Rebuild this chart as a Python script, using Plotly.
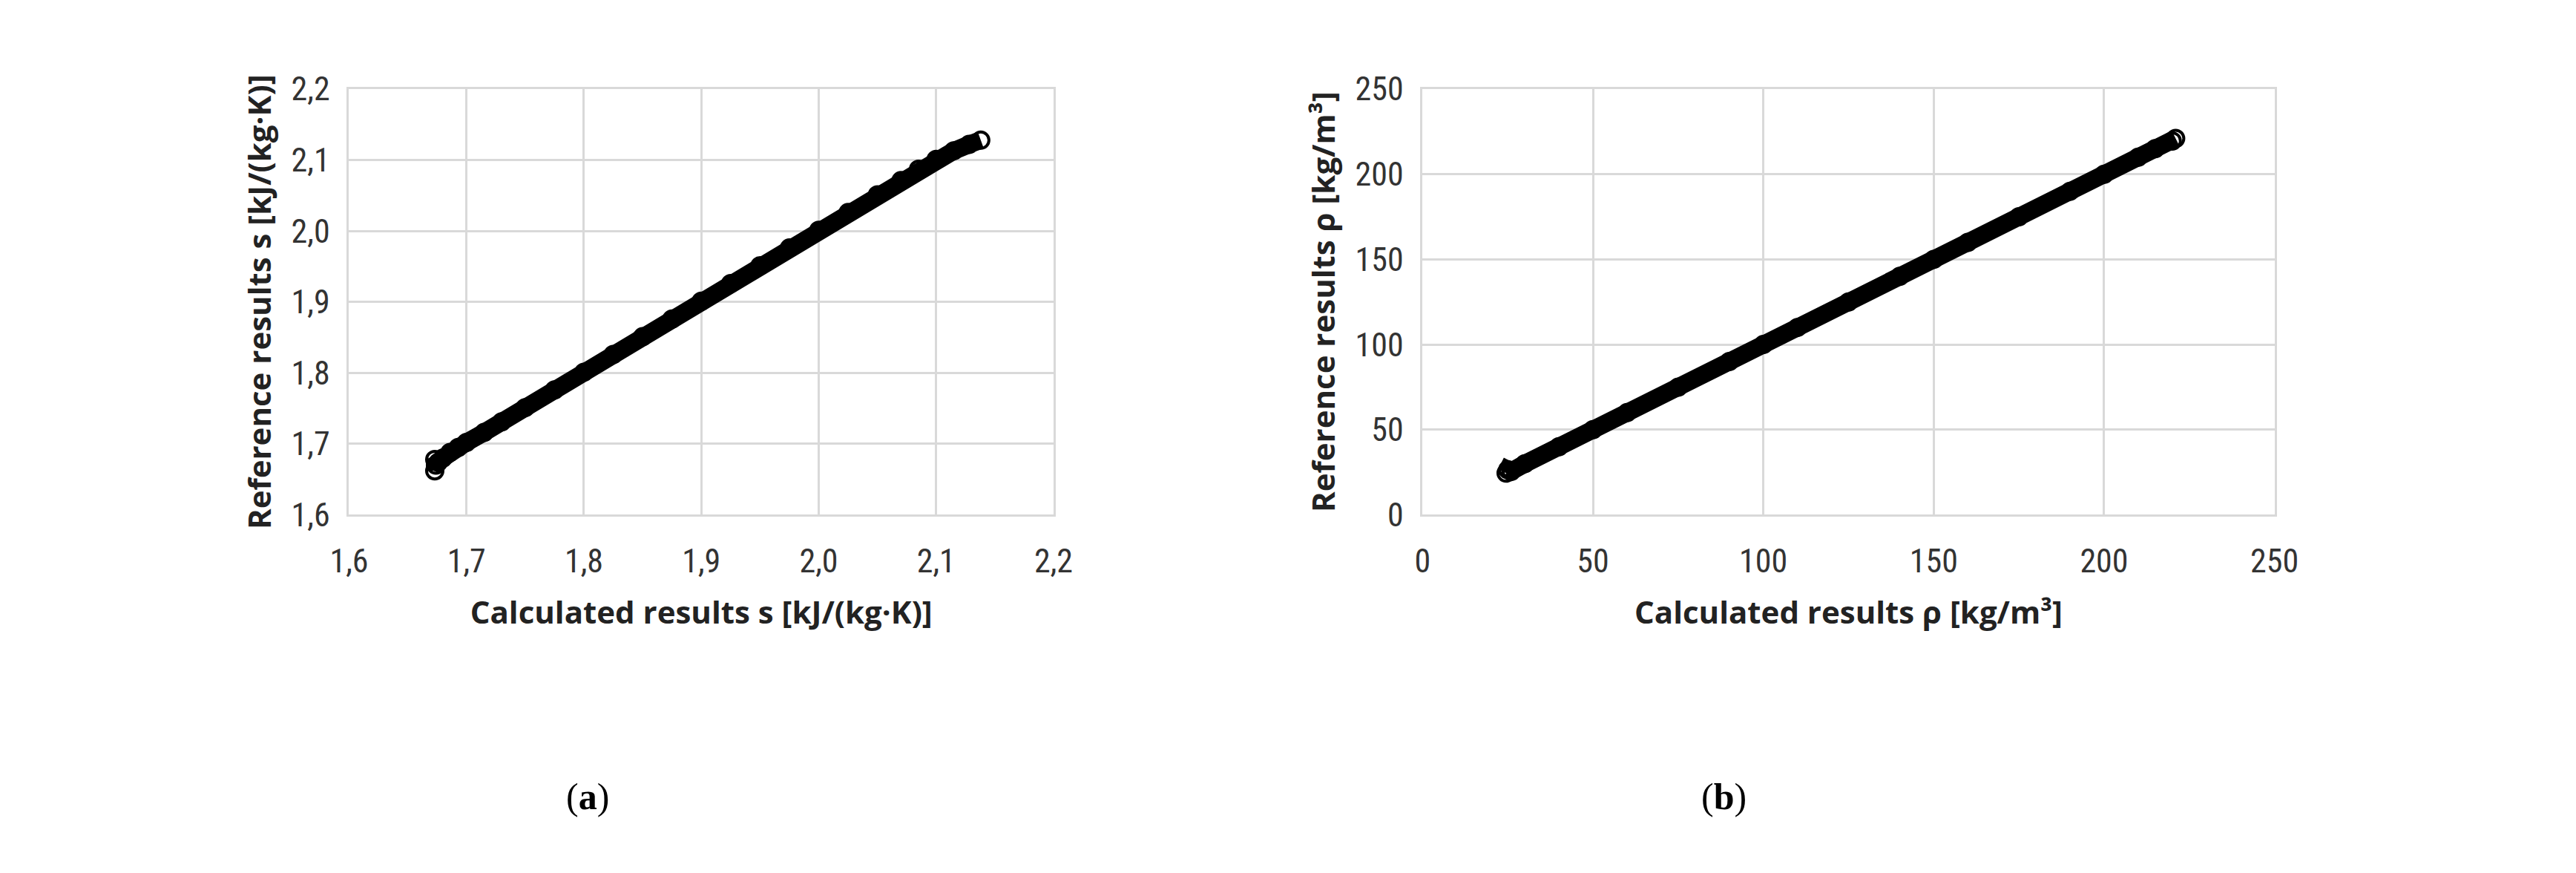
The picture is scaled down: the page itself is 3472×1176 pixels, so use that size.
import plotly.graph_objects as go

# (a) entropy s [kJ/(kg·K)]
s_calc = [1.673, 1.673, 1.674, 1.676, 1.680, 1.686, 1.693, 1.700, 1.715, 1.730, 1.750,
          1.775, 1.800, 1.825, 1.850, 1.875, 1.900, 1.925, 1.950, 1.975, 2.000,
          2.025, 2.050, 2.070, 2.085, 2.100, 2.115, 2.128, 2.138]
s_ref = [1.662, 1.678, 1.670, 1.674, 1.680, 1.688, 1.695, 1.702, 1.716, 1.731, 1.751,
         1.776, 1.801, 1.826, 1.851, 1.876, 1.901, 1.926, 1.951, 1.976, 2.001,
         2.026, 2.051, 2.071, 2.087, 2.101, 2.113, 2.122, 2.128]

# (b) density rho [kg/m3]
rho_calc = [24.5, 25.0, 26.0, 30.0, 40.0, 50.0, 60.0, 75.0, 90.0, 100.0, 110.0, 125.0,
            140.0, 150.0, 160.0, 175.0, 190.0, 200.0, 210.0, 215.0, 220.0, 221.0]
rho_ref = [24.5, 26.5, 25.5, 30.0, 40.0, 50.0, 60.0, 75.0, 90.0, 100.0, 110.0, 125.0,
           140.0, 150.0, 160.0, 175.0, 190.0, 200.0, 210.0, 215.0, 219.5, 221.0]

s_ticks = [1.6, 1.7, 1.8, 1.9, 2.0, 2.1, 2.2]
s_ticklabels = ["1,6", "1,7", "1,8", "1,9", "2,0", "2,1", "2,2"]
rho_ticks = [0, 50, 100, 150, 200, 250]

W, H = 3472, 1176
fig = go.Figure()

def band(x, y, xa, ya):
    fig.add_trace(go.Scatter(x=x, y=y, xaxis=xa, yaxis=ya, mode="lines+markers",
                             line=dict(color="black", width=24),
                             marker=dict(symbol="circle-open", size=22, color="black",
                                         line=dict(width=4)),
                             showlegend=False))

band(s_calc, s_ref, "x", "y")
band(rho_calc, rho_ref, "x2", "y2")

tickf = dict(family="Liberation Sans Narrow, Roboto Condensed, sans-serif", size=44, color="#333")
titlef = dict(family="Open Sans, Liberation Sans, sans-serif", size=42, color="#222")
grid = dict(showgrid=True, gridcolor="#d9d9d9", gridwidth=3, zeroline=False,
            showline=True, linecolor="#d9d9d9", linewidth=3, mirror=True,
            tickfont=tickf, ticks="")

fig.update_layout(
    width=W, height=H, paper_bgcolor="white", plot_bgcolor="white",
    margin=dict(l=0, r=0, t=0, b=0),
    xaxis=dict(domain=[444 / W, 1410 / W], range=[1.6, 2.2], tickvals=s_ticks,
               ticktext=s_ticklabels, anchor="y", ticklabelstandoff=22,
               title=dict(text="<b>Calculated results s [kJ/(kg·K)]</b>", font=titlef, standoff=30),
               **grid),
    yaxis=dict(domain=[1 - 690 / H, 1 - 90 / H], range=[1.6, 2.2], tickvals=s_ticks,
               ticktext=s_ticklabels, anchor="x", ticklabelstandoff=14,
               title=dict(text="<b>Reference results s [kJ/(kg·K)]</b>", font=titlef, standoff=14),
               **grid),
    xaxis2=dict(domain=[1916 / W, 3084 / W], range=[0, 250], tickvals=rho_ticks,
                anchor="y2", ticklabelstandoff=22,
                title=dict(text="<b>Calculated results ρ [kg/m³]</b>", font=titlef, standoff=30),
                **grid),
    yaxis2=dict(domain=[1 - 690 / H, 1 - 90 / H], range=[0, 250], tickvals=rho_ticks,
                anchor="x2", ticklabelstandoff=14,
                title=dict(text="<b>Reference results ρ [kg/m³]</b>", font=titlef, standoff=14),
                **grid),
)

capf = dict(family="Liberation Serif, DejaVu Serif, serif", size=50, color="black")
fig.add_annotation(text="(<b>a</b>)", x=740 / W, y=1 - 1118 / H, xref="paper", yref="paper",
                   showarrow=False, font=capf)
fig.add_annotation(text="(<b>b</b>)", x=2362 / W, y=1 - 1118 / H, xref="paper", yref="paper",
                   showarrow=False, font=capf)

fig.write_html("out.html")
